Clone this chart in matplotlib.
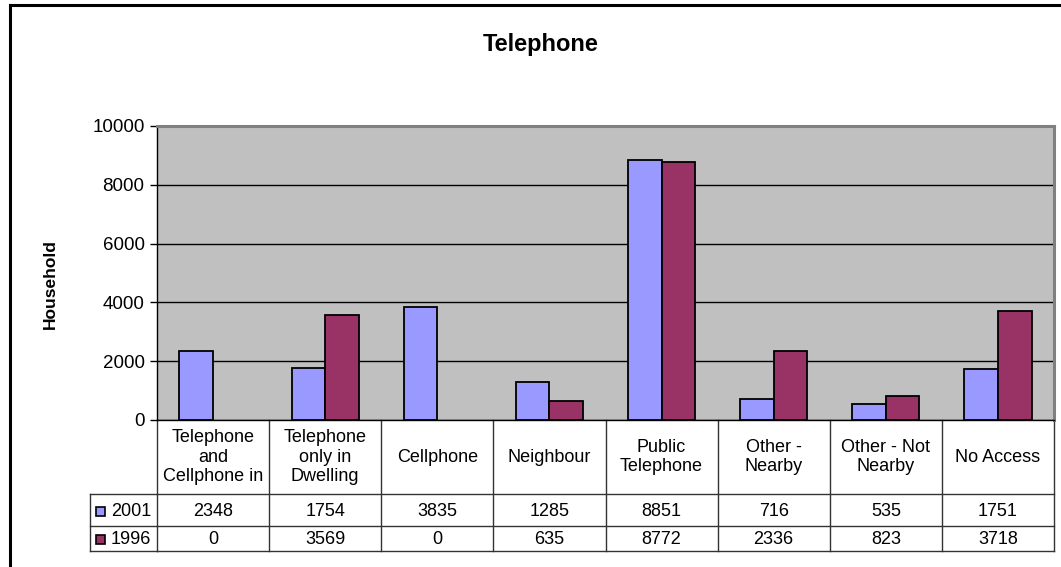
import matplotlib
matplotlib.use("Agg")
import matplotlib.pyplot as plt
import matplotlib.transforms as mtransforms
from matplotlib.lines import Line2D
from matplotlib.patches import Rectangle
import numpy as np

plt.rcParams['font.family'] = ['Liberation Sans', 'DejaVu Sans']

categories = ["Telephone\nand\nCellphone in", "Telephone\nonly in\nDwelling", "Cellphone",
              "Neighbour", "Public\nTelephone", "Other -\nNearby", "Other - Not\nNearby", "No Access"]
series_names = ["2001", "1996"]
values_2001 = [2348, 1754, 3835, 1285, 8851, 716, 535, 1751]
values_1996 = [0, 3569, 0, 635, 8772, 2336, 823, 3718]
colors = ["#9999FF", "#993366"]
yticks = [0, 2000, 4000, 6000, 8000, 10000]

W, H = 1061, 567
fig = plt.figure(figsize=(W / 100, H / 100), dpi=100)

# plot area in pixels
L, R, T, B = 157, 1054, 126, 420
ax = fig.add_axes([L / W, 1 - B / H, (R - L) / W, (B - T) / H])
ax.set_facecolor("#C0C0C0")

x = np.arange(len(categories))
bw = 0.3
for offs, vals, col in [(-bw, values_2001, colors[0]), (0, values_1996, colors[1])]:
    edges = ['black' if v > 0 else 'none' for v in vals]
    ax.bar(x + offs, vals, width=bw, align='edge', color=col, edgecolor=edges, linewidth=1.3, zorder=3)

ax.set_xlim(-0.5, len(categories) - 0.5)
ax.set_ylim(0, 10000)
ax.set_yticks(yticks)
ax.set_yticklabels([str(v) for v in yticks], fontsize=13.5)
ax.tick_params(axis='y', direction='out', length=5, width=1, color='black', pad=4)
ax.set_xticks([])
ax.grid(axis='y', color='black', linewidth=1, zorder=1)
ax.set_axisbelow(True)
for side in ['top', 'right']:
    ax.spines[side].set_color('#808080')
    ax.spines[side].set_linewidth(2.2)
ax.spines['left'].set_color('black')
ax.spines['left'].set_linewidth(1)
ax.spines['bottom'].set_color('black')
ax.spines['bottom'].set_linewidth(1)

# data table below axes
trans = mtransforms.blended_transform_factory(ax.transData, ax.transAxes)
def ay(py):
    return (B - py) / (B - T)

ax.set_ylabel("Household", fontsize=12.5, fontweight='bold')
ax.yaxis.set_label_coords((58 - L) / (R - L), ay(284))
fig.text(541 / W, 1 - 45 / H, "Telephone", fontsize=17, fontweight='bold', ha='center', va='center')

header_bot, row1_bot, row2_bot = 494, 526, 551
leg_left = 90
tcol = '#333333'
for py in [header_bot, row1_bot, row2_bot]:
    ax.add_line(Line2D([-0.5, len(categories) - 0.5], [ay(py), ay(py)], transform=trans,
                       color=tcol, linewidth=1, clip_on=False))
    fig.add_artist(Line2D([leg_left / W, L / W], [1 - py / H] * 2, color=tcol, linewidth=1))
fig.add_artist(Line2D([leg_left / W, leg_left / W], [1 - header_bot / H, 1 - row2_bot / H], color=tcol, linewidth=1))
for i in range(len(categories) + 1):
    xv = i - 0.5
    ax.add_line(Line2D([xv, xv], [ay(B), ay(row2_bot)], transform=trans, color=tcol, linewidth=1, clip_on=False))

for i, cat in enumerate(categories):
    ax.text(i, ay(457), cat, transform=trans, ha='center', va='center', fontsize=13,
            linespacing=1.2, clip_on=False)
    ax.text(i, ay(511), str(values_2001[i]), transform=trans, ha='center', va='center', fontsize=13, clip_on=False)
    ax.text(i, ay(539), str(values_1996[i]), transform=trans, ha='center', va='center', fontsize=13, clip_on=False)

for name, col, py in zip(series_names, colors, [511, 539]):
    fig.add_artist(Rectangle((96 / W, 1 - (py + 5) / H), 9 / W, 9 / H, facecolor=col,
                             edgecolor='black', linewidth=1.2))
    fig.text(111 / W, 1 - py / H, name, fontsize=13, ha='left', va='center')

# outer chart frame (left and top edges visible)
fig.add_artist(Line2D([10 / W, 10 / W], [0, 1 - 5 / H], color='black', linewidth=2.2))
fig.add_artist(Line2D([10 / W, 1], [1 - 5 / H, 1 - 5 / H], color='black', linewidth=2.2))

fig.savefig("out.png", dpi=100, facecolor='white')
